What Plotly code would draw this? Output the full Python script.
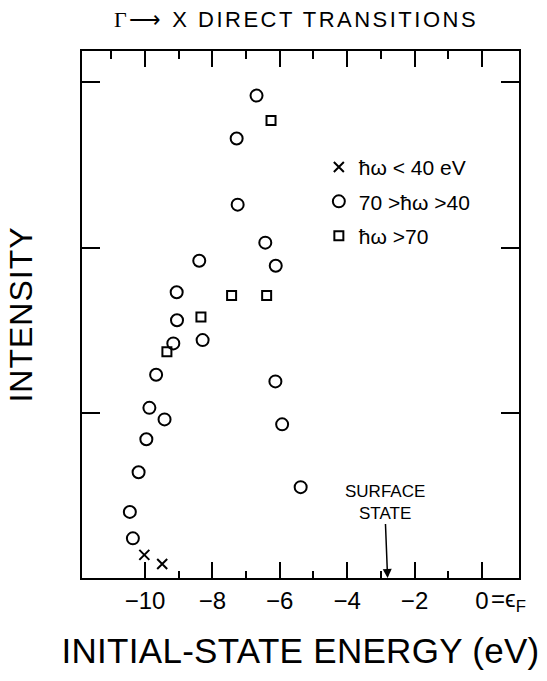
import plotly.graph_objects as go

# ---- data ----
circle_x = [-6.69, -7.28, -7.25, -6.43, -8.39, -6.12, -9.06, -9.05, -9.16, -8.29,
            -9.67, -6.13, -9.87, -9.42, -5.93, -9.96, -10.19, -5.38, -10.45, -10.36]
circle_y = [2.92, 2.66, 2.26, 2.03, 1.92, 1.89, 1.73, 1.56, 1.42, 1.44,
            1.23, 1.19, 1.03, 0.96, 0.93, 0.84, 0.64, 0.55, 0.40, 0.24]

square_x = [-6.26, -7.43, -6.39, -8.34, -9.35]
square_y = [2.77, 1.71, 1.71, 1.58, 1.37]

cross_x = [-10.02, -9.49]
cross_y = [0.14, 0.085]

legend_labels = ["ħω < 40 eV", "70 >ħω >40", "ħω >70"]

x_tick_vals = [-10, -8, -6, -4, -2, 0]
x_tick_text = ["−10", "−8", "−6", "−4", "−2", "0"]
x_minor_bottom = [-9, -7, -5, -3, -1]
x_minor_top = [-11, -9, -7, -5, -3, -1]
y_tick_vals = [1, 2, 3]

x_range = [-11.87, 1.10]
y_range = [0, 3.19]

surface_state_x = -2.8

FONT = "Liberation Sans, Arial, sans-serif"
BLACK = "black"

fig = go.Figure()
fig.add_trace(go.Scatter(
    x=cross_x, y=cross_y, mode="markers", name=legend_labels[0], legendgroup="a",
    marker=dict(symbol="x-thin", size=10, color=BLACK, line=dict(width=2, color=BLACK))))
fig.add_trace(go.Scatter(
    x=circle_x, y=circle_y, mode="markers", name=legend_labels[1], legendgroup="b",
    marker=dict(symbol="circle-open", size=12, color=BLACK, line=dict(width=2, color=BLACK))))
fig.add_trace(go.Scatter(
    x=square_x, y=square_y, mode="markers", name=legend_labels[2], legendgroup="c",
    marker=dict(symbol="square-open", size=9, color=BLACK, line=dict(width=2, color=BLACK))))
# empty trace so the top (mirror) axis is drawn
fig.add_trace(go.Scatter(x=[], y=[], xaxis="x2", showlegend=False, hoverinfo="skip"))

axis_common = dict(showgrid=False, zeroline=False, linecolor=BLACK, linewidth=2,
                   tickcolor=BLACK, tickwidth=2)

fig.update_layout(
    width=547, height=681,
    margin=dict(l=82, r=28, t=51, b=103),
    paper_bgcolor="white", plot_bgcolor="white",
    font=dict(family=FONT, color=BLACK),
    title=dict(
        text="<span style='letter-spacing:2.5px'><span style='font-family:Liberation Serif'>Γ</span>⟶ X DIRECT TRANSITIONS</span>",
        x=296 / 547, xanchor="center", y=1 - 19 / 681, yanchor="middle",
        font=dict(size=22, family=FONT, color=BLACK)),
    xaxis=dict(
        range=x_range, showline=True, mirror=True, ticks="inside", ticklen=16,
        tickvals=x_tick_vals, ticktext=x_tick_text,
        tickfont=dict(size=24, family=FONT, color=BLACK),
        minor=dict(ticks="inside", ticklen=7, tickwidth=2, tickcolor=BLACK,
                   tickvals=x_minor_bottom, showgrid=False),
        title=dict(text="<span style='letter-spacing:0.3px'>INITIAL-STATE ENERGY (eV)</span>",
                   standoff=26, font=dict(size=35, family=FONT, color=BLACK)),
        **axis_common),
    xaxis2=dict(
        range=x_range, overlaying="x", side="top", showline=False,
        ticks="inside", ticklen=16, tickvals=x_tick_vals, showticklabels=False,
        minor=dict(ticks="inside", ticklen=8, tickwidth=2, tickcolor=BLACK,
                   tickvals=x_minor_top, showgrid=False),
        **axis_common),
    yaxis=dict(
        range=y_range, showline=True, mirror="ticks", ticks="inside", ticklen=18,
        tickvals=y_tick_vals, showticklabels=False,
        title=dict(text="<span style='letter-spacing:1px'>INTENSITY</span>", standoff=38,
                   font=dict(size=32, family=FONT, color=BLACK)),
        **axis_common),
    legend=dict(
        x=0.542, y=0.818, xanchor="left", yanchor="top",
        bgcolor="rgba(0,0,0,0)", font=dict(size=21, family=FONT, color=BLACK),
        traceorder="grouped", tracegroupgap=4, itemwidth=30),
    annotations=[
        dict(x=surface_state_x, y=0, xref="x", yref="y", text="SURFACE<br>STATE",
             showarrow=True, arrowhead=2, arrowsize=1.2, arrowwidth=1.5, arrowcolor=BLACK,
             ax=-3, ay=-76, standoff=0, font=dict(size=17, family=FONT, color=BLACK)),
        dict(x=0, y=0, xref="x", yref="paper", text="=ϵ<sub>F</sub>", showarrow=False,
             xanchor="left", yanchor="top", xshift=7, yshift=-5,
             font=dict(size=24, family=FONT, color=BLACK)),
    ],
)

fig.write_html("out.html")
